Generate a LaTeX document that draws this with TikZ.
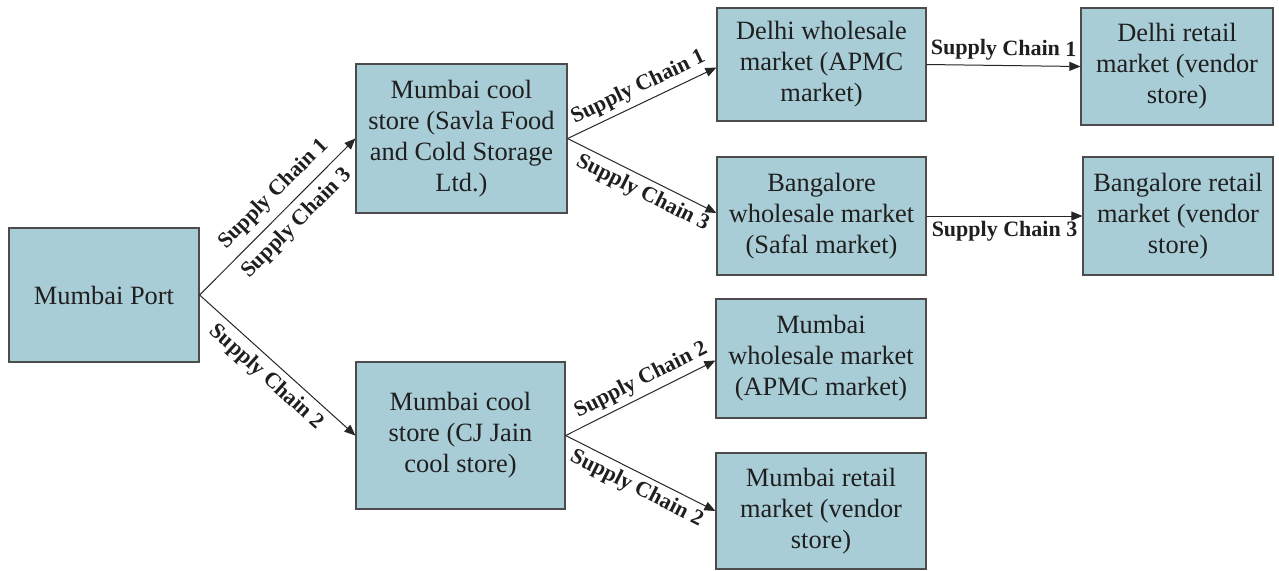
\documentclass[tikz,border=0pt]{standalone}
\usepackage{fontspec}
\setmainfont{Liberation Serif}
\usetikzlibrary{arrows.meta}
\definecolor{boxfill}{RGB}{169,205,214}
\begin{document}
\begin{tikzpicture}[x=0.5pt,y=-0.5pt,
  box/.style={draw=black!70, line width=0.6pt, fill=boxfill, inner sep=0pt, align=center,
    font=\fontsize{13.2}{15.5}\selectfont, text=black!88},
  conn/.style={draw=black!85, line width=0.5pt, -{Triangle[length=5.5pt,width=4.5pt]}},
  lab/.style={font=\fontsize{11}{13}\selectfont\bfseries, sloped, inner sep=2.5pt, text=black!88}]
\useasboundingbox (0,0) rectangle (1279,570);
\node[box, minimum width=95pt, minimum height=67pt] (mp) at (104,295) {Mumbai Port};
\node[box, minimum width=105.5pt, minimum height=74.5pt] (savla) at (461.5,138.5)
  {Mumbai cool\\store (Savla Food\\and Cold Storage\\Ltd.)};
\node[box, minimum width=104.5pt, minimum height=73.5pt] (cj) at (460.5,435.5)
  {Mumbai cool\\store (CJ Jain\\cool store)};
\node[box, minimum width=104.5pt, minimum height=56.5pt] (dw) at (821.5,64.5)
  {Delhi wholesale\\market (APMC\\market)};
\node[box, minimum width=104.5pt, minimum height=59pt] (bw) at (821.5,216)
  {Bangalore\\wholesale market\\(Safal market)};
\node[box, minimum width=105pt, minimum height=59.5pt] (mw) at (821,358.5)
  {Mumbai\\wholesale market\\(APMC market)};
\node[box, minimum width=105pt, minimum height=58pt] (mr) at (821,511)
  {Mumbai retail\\market (vendor\\store)};
\node[box, minimum width=96pt, minimum height=58.5pt] (dr) at (1177,66.5)
  {Delhi retail\\market (vendor\\store)};
\node[box, minimum width=95pt, minimum height=59pt] (br) at (1178,216)
  {Bangalore retail\\market (vendor\\store)};

\draw[conn] (mp.east) -- node[lab, above, pos=0.56, inner sep=4pt] {Supply Chain 1}
  node[lab, below, pos=0.54, inner sep=4pt] {Supply Chain 3} (savla.west);
\draw[conn] (mp.east) -- node[lab, below, pos=0.5, inner sep=3pt] {Supply Chain 2} (cj.west);
\draw[conn] (savla.east) -- node[lab, above, pos=0.52] {Supply Chain 1} ([yshift=-1.5pt]dw.west);
\draw[conn] (savla.east) -- node[lab, below, pos=0.55] {Supply Chain 3} ([yshift=1.5pt]bw.west);
\draw[conn] (cj.east) -- node[lab, above, pos=0.55] {Supply Chain 2} ([yshift=-1pt]mw.west);
\draw[conn] (cj.east) -- node[lab, below, pos=0.52] {Supply Chain 2} (mr.west);
\draw[conn] (dw.east) -- node[lab, above] {Supply Chain 1} (dr.west);
\draw[conn] (bw.east) -- node[lab, below] {Supply Chain 3} (br.west);
\end{tikzpicture}
\end{document}
